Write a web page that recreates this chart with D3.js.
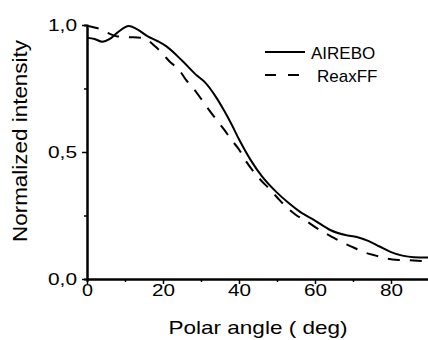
<!DOCTYPE html>
<html>
<head>
<script src="https://d3js.org/d3.v7.min.js"></script>
<style>
  body { margin: 0; background: #fff; }
  text { font-family: "Liberation Sans", Arial, sans-serif; fill: #000; }
</style>
</head>
<body>
<svg class="target"></svg>
<script>

// data
angles_airebo = [0, 2, 4, 6, 8, 11, 13, 16, 18.5, 21, 25, 29, 31, 34, 36, 38, 40, 43, 46, 50, 53, 56, 60, 64, 68, 71, 74, 77, 80, 83, 86, 90]
airebo = [0.95, 0.945, 0.934, 0.945, 0.97, 0.996, 0.985, 0.955, 0.937, 0.915, 0.86, 0.80, 0.775, 0.715, 0.665, 0.61, 0.55, 0.47, 0.405, 0.34, 0.30, 0.265, 0.23, 0.193, 0.173, 0.165, 0.15, 0.128, 0.106, 0.092, 0.086, 0.085]

angles_reaxff = [0, 2, 4, 6, 8, 11, 14, 16, 18, 20, 22, 24, 26, 28, 30, 32, 34, 36, 38, 40, 42, 44, 46, 48, 50, 52, 55, 58, 61, 64, 67, 70, 73, 76, 79, 82, 86, 90]
reaxff = [0.997, 0.99, 0.982, 0.965, 0.955, 0.952, 0.95, 0.94, 0.915, 0.885, 0.852, 0.828, 0.785, 0.75, 0.71, 0.668, 0.628, 0.59, 0.548, 0.51, 0.46, 0.42, 0.385, 0.355, 0.322, 0.29, 0.252, 0.225, 0.195, 0.17, 0.145, 0.125, 0.105, 0.092, 0.08, 0.075, 0.073, 0.068]

xMajor = [0, 20, 40, 60, 80]
xMinor = [10, 30, 50, 70, 90]
yMajor = [0, 0.5, 1.0]
yMinor = [0.25, 0.75]

seriesNames = ['AIREBO', 'ReaxFF']

width = 428
height = 340

svg = d3.select('.target')
      .attr('width', width)
      .attr('height', height)

x = d3.scaleLinear().domain([0, 90]).range([87, 429])
y = d3.scaleLinear().domain([0, 1]).range([279, 25])

fmt = d => d3.format('.1f')(d).replace('.', ',')

// minor ticks first
svg.append('g')
    .attr('transform', `translate(0,${y(0)})`)
    .call(d3.axisBottom(x).tickValues(xMinor).tickSize(3).tickFormat(''))
svg.append('g')
    .attr('transform', `translate(${x(0)},0)`)
    .call(d3.axisLeft(y).tickValues(yMinor).tickSize(3).tickFormat(''))

gx = svg.append('g')
    .attr('transform', `translate(0,${y(0)})`)
    .call(d3.axisBottom(x).tickValues(xMajor).tickSize(5).tickSizeOuter(0).tickPadding(0))
gy = svg.append('g')
    .attr('transform', `translate(${x(0)},0)`)
    .call(d3.axisLeft(y).tickValues(yMajor).tickSize(5).tickSizeOuter(0).tickPadding(5).tickFormat(fmt))

svg.selectAll('.domain').attr('stroke-width', 2).attr('stroke', '#000')
svg.selectAll('.tick line').attr('stroke-width', 1.5).attr('stroke', '#000')
svg.selectAll('.tick text')
    .attr('font-family', '"Liberation Sans", Arial, sans-serif')
    .attr('font-size', 16.5)
    .attr('fill', '#000')
    .attr('lengthAdjust', 'spacingAndGlyphs')

// the original lettering is a bit wide, stretch it
gx.selectAll('.tick text').attr('textLength', function () { return 12 * this.textContent.length - 1 })
gy.selectAll('.tick text').attr('textLength', 29)

// axis titles
svg.append('text')
    .attr('x', 258).attr('y', 334)
    .attr('text-anchor', 'middle')
    .attr('font-size', 19)
    .attr('textLength', 179)
    .attr('lengthAdjust', 'spacingAndGlyphs')
    .text('Polar angle ( deg)')

svg.append('text')
    .attr('transform', 'translate(27,141) rotate(-90)')
    .attr('text-anchor', 'middle')
    .attr('font-size', 21)
    .attr('textLength', 202)
    .attr('lengthAdjust', 'spacingAndGlyphs')
    .text('Normalized intensity')

// curves
line = d3.line()
    .x(d => x(d[0]))
    .y(d => y(d[1]))
    .curve(d3.curveMonotoneX)

svg.append('path')
    .datum(d3.zip(angles_airebo, airebo))
    .attr('d', line)
    .attr('fill', 'none')
    .attr('stroke', '#000')
    .attr('stroke-width', 2)

svg.append('path')
    .datum(d3.zip(angles_reaxff, reaxff))
    .attr('d', line)
    .attr('fill', 'none')
    .attr('stroke', '#000')
    .attr('stroke-width', 2)
    .attr('stroke-dasharray', '12,10')

// legend
legend = svg.append('g')
legend.selectAll('line')
    .data(seriesNames)
    .join('line')
      .attr('x1', 265).attr('x2', 305)
      .attr('y1', (d, i) => 52 + 23 * i)
      .attr('y2', (d, i) => 52 + 23 * i)
      .attr('stroke', '#000')
      .attr('stroke-width', 2)
      .attr('stroke-dasharray', (d, i) => i ? '11,12' : null)
legend.selectAll('text')
    .data(seriesNames)
    .join('text')
      .attr('x', (d, i) => i ? 317 : 311)
      .attr('y', (d, i) => 59 + 23 * i)
      .attr('font-size', 17)
      .text(d => d)

</script>
</body>
</html>
